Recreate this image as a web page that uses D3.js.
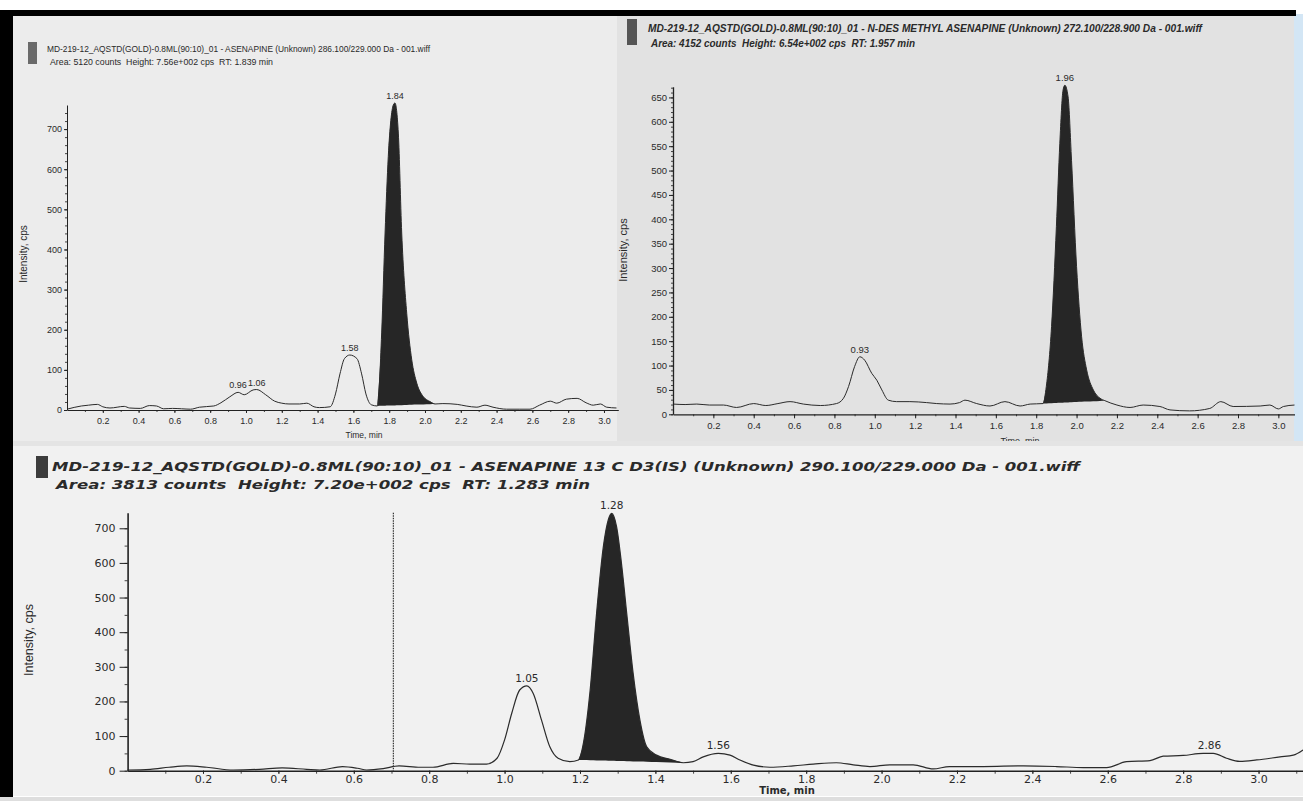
<!DOCTYPE html>
<html>
<head>
<meta charset="utf-8">
<script src="https://cdn.jsdelivr.net/npm/d3@7"></script>
<style>
  body { margin: 0; background: #fff; }
  svg { display: block; }
  text { white-space: pre; }
</style>
</head>
<body>
<svg id="chart" width="1303" height="801"></svg>
<script>
// ---------- data ----------
// [time (min), intensity (cps)]
const asenapineTrace = [
  [0.00, 2], [0.08, 10], [0.12, 12], [0.17, 14], [0.20, 8], [0.24, 5], [0.32, 9], [0.35, 5],
  [0.41, 4], [0.46, 11], [0.50, 10], [0.54, 3], [0.59, 4], [0.64, 3], [0.69, 2], [0.74, 7],
  [0.82, 10], [0.86, 18], [0.91, 33], [0.956, 44], [0.99, 38], [1.04, 50], [1.06, 51], [1.11, 38],
  [1.16, 22], [1.20, 17], [1.24, 15], [1.30, 15], [1.34, 17], [1.38, 8], [1.41, 6], [1.47, 8],
  [1.50, 40], [1.525, 90], [1.55, 128], [1.58, 137], [1.62, 128], [1.646, 90], [1.67, 40], [1.70, 13],
  [1.734, 10], [1.758, 192], [1.777, 441], [1.795, 632], [1.823, 760], [1.832, 765], [1.851, 690],
  [1.870, 441], [1.898, 241], [1.926, 125], [1.954, 67], [1.991, 33], [2.028, 21], [2.056, 15],
  [2.10, 16], [2.18, 14], [2.23, 10], [2.29, 7], [2.335, 12], [2.38, 7], [2.456, 2], [2.53, 2],
  [2.587, 2], [2.64, 12], [2.70, 22], [2.736, 17], [2.79, 27], [2.85, 29], [2.90, 18], [2.94, 12],
  [2.98, 15], [3.015, 7], [3.07, 5]
];
const asenapineFill = [1.734, 2.056];
const asenapinePeaks = [[0.956, 44, "0.96"], [1.06, 51, "1.06"], [1.58, 137, "1.58"], [1.832, 765, "1.84"]];

const desmethylTrace = [
  [0.00, 21], [0.06, 20], [0.118, 21], [0.18, 19], [0.25, 19], [0.315, 14], [0.40, 22], [0.46, 18],
  [0.52, 22], [0.58, 26], [0.646, 21], [0.73, 18], [0.81, 22], [0.845, 33], [0.87, 57], [0.90, 98],
  [0.926, 118], [0.95, 111], [0.985, 84], [1.01, 70], [1.035, 50], [1.067, 29], [1.108, 26], [1.174, 26],
  [1.257, 24], [1.307, 22], [1.373, 21], [1.42, 24], [1.447, 29], [1.505, 22], [1.571, 17], [1.645, 26],
  [1.72, 17], [1.77, 21], [1.834, 22], [1.85, 57], [1.876, 180], [1.90, 385], [1.917, 556], [1.933, 665],
  [1.942, 675], [1.958, 651], [1.975, 521], [2.0, 303], [2.025, 159], [2.05, 91], [2.083, 50], [2.116, 33],
  [2.14, 28], [2.2, 19], [2.265, 14], [2.33, 19], [2.413, 16], [2.463, 9], [2.56, 7], [2.66, 12],
  [2.715, 26], [2.776, 16], [2.91, 17], [2.958, 19], [3.0, 11], [3.025, 16], [3.08, 19]
];
const desmethylFill = [1.834, 2.14];
const desmethylPeaks = [[0.926, 118, "0.93"], [1.942, 675, "1.96"]];

const internalStdTrace = [
  [0.00, 2], [0.06, 4], [0.11, 10], [0.157, 14], [0.21, 10], [0.28, 2], [0.35, 4], [0.41, 8],
  [0.475, 4], [0.51, 2], [0.57, 12], [0.61, 7], [0.634, 2], [0.678, 6], [0.72, 14], [0.776, 10],
  [0.81, 10], [0.864, 21], [0.908, 19], [0.952, 19], [0.98, 36], [1.00, 89], [1.019, 166], [1.04, 233],
  [1.059, 245], [1.076, 223], [1.098, 146], [1.12, 69], [1.142, 36], [1.173, 26], [1.196, 31], [1.209, 79],
  [1.227, 233], [1.244, 454], [1.262, 647], [1.275, 724], [1.284, 743], [1.297, 705], [1.31, 599],
  [1.324, 454], [1.341, 281], [1.359, 146], [1.377, 69], [1.403, 45], [1.439, 33], [1.474, 23],
  [1.50, 26], [1.527, 40], [1.567, 50], [1.598, 45], [1.624, 31], [1.66, 16], [1.704, 10], [1.766, 14],
  [1.819, 19], [1.88, 23], [1.925, 17], [1.969, 12], [2.022, 17], [2.084, 17], [2.137, 5], [2.18, 12],
  [2.27, 12], [2.376, 14], [2.464, 12], [2.535, 9], [2.597, 9], [2.65, 26], [2.712, 29], [2.747, 42],
  [2.80, 44], [2.853, 50], [2.88, 50], [2.915, 36], [2.95, 27], [2.995, 31], [3.057, 40], [3.092, 45],
  [3.118, 60]
];
const internalStdFill = [1.196, 1.474];
const internalStdPeaks = [[1.059, 245, "1.05"], [1.284, 743, "1.28"], [1.567, 50, "1.56"], [2.87, 50, "2.86"]];
const internalStdMarker = 0.705;

const timeTicks = [0.2, 0.4, 0.6, 0.8, 1.0, 1.2, 1.4, 1.6, 1.8, 2.0, 2.2, 2.4, 2.6, 2.8, 3.0];
const timeMinor = d3.range(1, 32).map(i => i / 10);
const asenapineTicks = [0, 100, 200, 300, 400, 500, 600, 700];
const desmethylTicks = [0, 50, 100, 150, 200, 250, 300, 350, 400, 450, 500, 550, 600, 650];
const internalStdTicks = [0, 100, 200, 300, 400, 500, 600, 700];

const asenapineTitle = ["MD-219-12_AQSTD(GOLD)-0.8ML(90:10)_01 - ASENAPINE (Unknown) 286.100/229.000 Da - 001.wiff",
                        "Area: 5120 counts  Height: 7.56e+002 cps  RT: 1.839 min"];
const desmethylTitle = ["MD-219-12_AQSTD(GOLD)-0.8ML(90:10)_01 - N-DES METHYL ASENAPINE (Unknown) 272.100/228.900 Da - 001.wiff",
                        "Area: 4152 counts  Height: 6.54e+002 cps  RT: 1.957 min"];
const internalStdTitle = ["MD-219-12_AQSTD(GOLD)-0.8ML(90:10)_01 - ASENAPINE 13 C D3(IS) (Unknown) 290.100/229.000 Da - 001.wiff",
                          "Area: 3813 counts  Height: 7.20e+002 cps  RT: 1.283 min"];

const svg = d3.select("#chart");

// ---------- paper / scan background ----------
svg.append("rect").attr("x", 0).attr("y", 0).attr("width", 1303).attr("height", 801).attr("fill", "#fff");
svg.append("rect").attr("x", 13).attr("y", 16).attr("width", 604).attr("height", 426).attr("fill", "#ececec");
svg.append("rect").attr("x", 617).attr("y", 16).attr("width", 677).attr("height", 430).attr("fill", "#e2e2e2");
svg.append("rect").attr("x", 13).attr("y", 446).attr("width", 1290).attr("height", 350).attr("fill", "#f1f1f1");
svg.append("rect").attr("x", 1294).attr("y", 14).attr("width", 9).attr("height", 432).attr("fill", "#d3e6f5");

function panel(o) {
  const g = svg.append("g");
  const x = d3.scaleLinear().domain(o.xDomain).range(o.xRange);
  const y = d3.scaleLinear().domain(o.yDomain).range(o.yRange);
  const y0 = o.yRange[0];

  // legend swatch + titles
  g.append("rect").attr("x", o.swatch[0]).attr("y", o.swatch[1])
    .attr("width", o.swatch[2]).attr("height", o.swatch[3]).attr("fill", o.swatchColor);
  o.title.forEach((t, i) => {
    g.append("text").attr("x", o.titlePos[i][0]).attr("y", o.titlePos[i][1])
      .attr("textLength", o.titlePos[i][2]).attr("lengthAdjust", "spacingAndGlyphs")
      .attr("font-family", o.titleFont).attr("font-size", o.titleSize)
      .attr("font-weight", o.titleWeight).attr("font-style", o.titleStyle)
      .attr("fill", "#2a2a2a").text(t);
  });

  // filled (integrated) peak, baseline drawn from peak start to peak end
  const seg = o.trace.filter(d => d[0] >= o.fill[0] && d[0] <= o.fill[1]);
  const a = seg[0], b = seg[seg.length - 1];
  const base = t => a[1] + (b[1] - a[1]) * (t - a[0]) / (b[0] - a[0]);
  g.append("path").datum(seg)
    .attr("fill", "#262626")
    .attr("d", d3.area().x(d => x(d[0])).y0(d => y(base(d[0]))).y1(d => y(d[1])).curve(d3.curveMonotoneX));

  // trace
  g.append("path").datum(o.trace)
    .attr("fill", "none").attr("stroke", "#2b2b2b").attr("stroke-width", o.lineWidth)
    .attr("d", d3.line().x(d => x(d[0])).y(d => y(d[1])).curve(d3.curveMonotoneX));

  // minor ticks
  g.append("g").attr("transform", `translate(0,${y0})`)
    .call(d3.axisBottom(x).tickValues(timeMinor.filter(v => v <= o.xDomain[1])).tickSize(o.minorLen).tickFormat(""))
    .call(s => s.select(".domain").remove())
    .call(s => s.selectAll("line").attr("stroke", "#444"));
  g.append("g").attr("transform", `translate(${o.xRange[0]},0)`)
    .call(d3.axisLeft(y).tickValues(d3.range(0, o.yDomain[1], o.yMinor)).tickSize(o.minorLen).tickFormat(""))
    .call(s => s.select(".domain").remove())
    .call(s => s.selectAll("line").attr("stroke", "#444"));

  // major axes
  const xa = g.append("g").attr("transform", `translate(0,${y0})`)
    .call(d3.axisBottom(x).tickValues(timeTicks).tickSize(o.xTickLen).tickPadding(o.xPad).tickSizeOuter(0).tickFormat(d3.format(".1f")));
  const ya = g.append("g").attr("transform", `translate(${o.xRange[0]},0)`)
    .call(d3.axisLeft(y).tickValues(o.yTicks).tickSize(o.yTickLen).tickPadding(o.yPad).tickSizeOuter(0));
  [xa, ya].forEach(ax => {
    ax.select(".domain").attr("stroke", "#222").attr("stroke-width", o.axisWidth);
    ax.selectAll("line").attr("stroke", "#222");
    ax.selectAll("text").attr("font-family", o.tickFont).attr("font-size", o.tickSize).attr("fill", "#2a2a2a");
  });

  // axis titles
  g.append("text")
    .attr("transform", `translate(${o.yLabel[0]},${o.yLabel[1]}) rotate(-90)`)
    .attr("text-anchor", "middle").attr("font-family", o.yLabelFont).attr("font-size", o.yLabelSize)
    .attr("fill", "#2a2a2a").text("Intensity, cps");
  g.append("text").attr("x", o.xLabel[0]).attr("y", o.xLabel[1])
    .attr("text-anchor", "middle").attr("font-family", o.xLabelFont).attr("font-size", o.xLabelSize)
    .attr("font-weight", o.xLabelWeight).attr("fill", "#2a2a2a").text("Time, min");

  // peak apex labels
  g.selectAll(null).data(o.peaks).join("text")
    .attr("x", d => x(d[0])).attr("y", d => y(d[1]) - 4)
    .attr("text-anchor", "middle").attr("font-family", o.tickFont).attr("font-size", o.peakSize)
    .attr("fill", "#2a2a2a").text(d => d[2]);

  return {g, x, y};
}

panel({
  trace: asenapineTrace, fill: asenapineFill, peaks: asenapinePeaks, title: asenapineTitle,
  xDomain: [0, 3.08], xRange: [67, 618.3], yDomain: [0, 760], yRange: [410, 105],
  yTicks: asenapineTicks, yMinor: 20, minorLen: 2, xTickLen: 3, yTickLen: 3, xPad: 5, yPad: 2, axisWidth: 1,
  tickFont: "Liberation Sans, Arial, sans-serif", tickSize: 9, peakSize: 9, lineWidth: 1,
  swatch: [28, 42, 9, 22], swatchColor: "#6a6a6a",
  titleFont: "Liberation Sans, Arial, sans-serif", titleSize: 9, titleWeight: "normal", titleStyle: "normal",
  titlePos: [[47, 52, 383], [50, 65, 223]],
  yLabel: [27, 254], yLabelFont: "Liberation Sans, Arial, sans-serif", yLabelSize: 10,
  xLabel: [364, 438], xLabelFont: "Liberation Sans, Arial, sans-serif", xLabelSize: 8.5, xLabelWeight: "normal"
});

panel({
  trace: desmethylTrace, fill: desmethylFill, peaks: desmethylPeaks, title: desmethylTitle,
  xDomain: [0, 3.08], xRange: [673, 1294.5], yDomain: [0, 672], yRange: [414.3, 86.7],
  yTicks: desmethylTicks, yMinor: 10, minorLen: 2, xTickLen: 4, yTickLen: 4, xPad: 4, yPad: 2, axisWidth: 1.3,
  tickFont: "Liberation Sans, Arial, sans-serif", tickSize: 9.5, peakSize: 9.5, lineWidth: 1,
  swatch: [627, 19, 10, 26], swatchColor: "#555",
  titleFont: "Liberation Sans Narrow, Arial Narrow, sans-serif", titleSize: 11, titleWeight: "bold", titleStyle: "italic",
  titlePos: [[648, 32, 554], [651, 47, 264]],
  yLabel: [627, 250], yLabelFont: "Liberation Sans, Arial, sans-serif", yLabelSize: 11,
  xLabel: [1020, 444], xLabelFont: "Liberation Sans, Arial, sans-serif", xLabelSize: 9, xLabelWeight: "normal"
});

const bottom = panel({
  trace: internalStdTrace, fill: internalStdFill, peaks: internalStdPeaks, title: internalStdTitle,
  xDomain: [0, 3.12], xRange: [127.6, 1303.8], yDomain: [0, 745], yRange: [770.7, 512.7],
  yTicks: internalStdTicks, yMinor: 50, minorLen: 3, xTickLen: 3, yTickLen: 8, xPad: 2, yPad: 4, axisWidth: 1.6,
  tickFont: "DejaVu Sans, Verdana, sans-serif", tickSize: 11, peakSize: 10.5, lineWidth: 1.2,
  swatch: [36, 456, 12, 22], swatchColor: "#3c3c3c",
  titleFont: "DejaVu Sans, Verdana, sans-serif", titleSize: 12.5, titleWeight: "bold", titleStyle: "italic",
  titlePos: [[52, 471, 1028], [56, 489, 534]],
  yLabel: [33, 640], yLabelFont: "Liberation Sans Narrow, Arial Narrow, sans-serif", yLabelSize: 12.5,
  xLabel: [787, 794], xLabelFont: "DejaVu Sans, Verdana, sans-serif", xLabelSize: 10, xLabelWeight: "bold"
});

// dotted vertical marker in the internal standard trace
bottom.g.append("line")
  .attr("x1", bottom.x(internalStdMarker)).attr("x2", bottom.x(internalStdMarker))
  .attr("y1", bottom.y(745)).attr("y2", bottom.y(0))
  .attr("stroke", "#333").attr("stroke-width", 1.2).attr("stroke-dasharray", "1.5,1");

// scan edges drawn last so they crop the panels
svg.append("rect").attr("x", 0).attr("y", 10).attr("width", 1296).attr("height", 6).attr("fill", "#000");
svg.append("rect").attr("x", 0).attr("y", 10).attr("width", 13).attr("height", 788).attr("fill", "#000");
svg.append("rect").attr("x", 13).attr("y", 441).attr("width", 1290).attr("height", 5).attr("fill", "#e4e4e4");
svg.append("rect").attr("x", 0).attr("y", 797).attr("width", 1303).attr("height", 4).attr("fill", "#dedede");
</script>
</body>
</html>
